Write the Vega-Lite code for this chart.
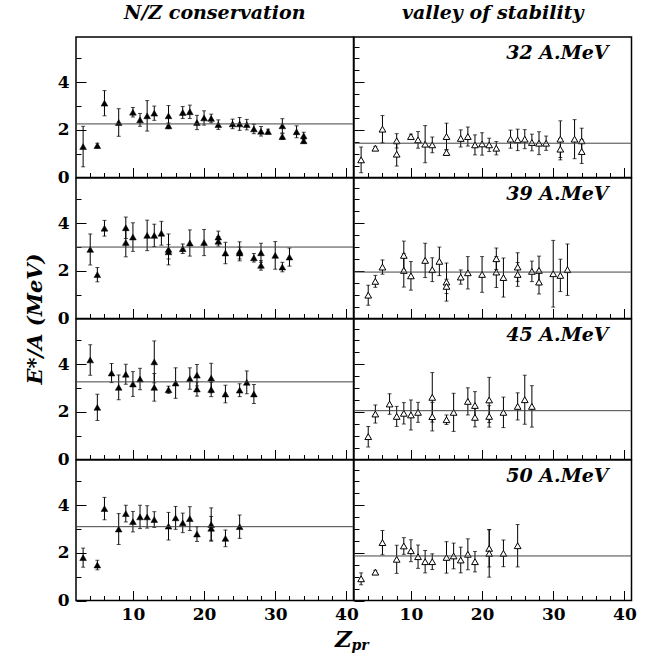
{
"$schema": "https://vega.github.io/schema/vega-lite/v6.json",
"padding": {"left": 23, "top": 3, "right": 0, "bottom": 0},
"background": "white",
"columns": 2,
"spacing": 0,
"bounds": "flush",
"datasets": {
"pts": [
{"p":"L32","Z":3,"E":1.3,"err":0.85},{"p":"L32","Z":5,"E":1.34,"err":0.1},{"p":"L32","Z":6,"E":3.12,"err":0.53},{"p":"L32","Z":8,"E":2.31,"err":0.58},{"p":"L32","Z":10,"E":2.74,"err":0.2},{"p":"L32","Z":11,"E":2.42,"err":0.27},{"p":"L32","Z":12,"E":2.59,"err":0.64},{"p":"L32","Z":13,"E":2.7,"err":0.3},{"p":"L32","Z":15,"E":2.59,"err":0.43},{"p":"L32","Z":15,"E":2.17,"err":0.12},{"p":"L32","Z":17,"E":2.73,"err":0.25},{"p":"L32","Z":18,"E":2.76,"err":0.28},{"p":"L32","Z":19,"E":2.31,"err":0.3},{"p":"L32","Z":20,"E":2.5,"err":0.3},{"p":"L32","Z":21,"E":2.48,"err":0.18},{"p":"L32","Z":22,"E":2.22,"err":0.2},{"p":"L32","Z":24,"E":2.25,"err":0.2},{"p":"L32","Z":25,"E":2.25,"err":0.27},{"p":"L32","Z":26,"E":2.22,"err":0.22},{"p":"L32","Z":27,"E":2.04,"err":0.2},{"p":"L32","Z":28,"E":1.94,"err":0.2},{"p":"L32","Z":29,"E":1.93,"err":0.1},{"p":"L32","Z":31,"E":2.17,"err":0.3},{"p":"L32","Z":31,"E":1.72,"err":0.12},{"p":"L32","Z":33,"E":1.92,"err":0.25},{"p":"L32","Z":34,"E":1.75,"err":0.15},{"p":"L32","Z":34,"E":1.54,"err":0.1},
{"p":"V32","Z":3,"E":0.74,"err":0.54},{"p":"V32","Z":5,"E":1.23,"err":0.08},{"p":"V32","Z":6,"E":2.03,"err":0.57},{"p":"V32","Z":8,"E":1.54,"err":0.3},{"p":"V32","Z":8,"E":0.98,"err":0.5},{"p":"V32","Z":10,"E":1.72,"err":0.1},{"p":"V32","Z":11,"E":1.58,"err":0.35},{"p":"V32","Z":12,"E":1.4,"err":0.78},{"p":"V32","Z":13,"E":1.37,"err":0.33},{"p":"V32","Z":15,"E":1.72,"err":0.56},{"p":"V32","Z":15,"E":1.05,"err":0.12},{"p":"V32","Z":17,"E":1.64,"err":0.36},{"p":"V32","Z":18,"E":1.72,"err":0.4},{"p":"V32","Z":19,"E":1.37,"err":0.42},{"p":"V32","Z":20,"E":1.41,"err":0.47},{"p":"V32","Z":21,"E":1.37,"err":0.28},{"p":"V32","Z":22,"E":1.23,"err":0.28},{"p":"V32","Z":24,"E":1.61,"err":0.38},{"p":"V32","Z":25,"E":1.58,"err":0.45},{"p":"V32","Z":26,"E":1.61,"err":0.4},{"p":"V32","Z":27,"E":1.47,"err":0.35},{"p":"V32","Z":28,"E":1.44,"err":0.48},{"p":"V32","Z":29,"E":1.44,"err":0.3},{"p":"V32","Z":31,"E":1.61,"err":0.77},{"p":"V32","Z":31,"E":1.19,"err":0.45},{"p":"V32","Z":33,"E":1.61,"err":0.82},{"p":"V32","Z":34,"E":1.54,"err":0.53},{"p":"V32","Z":34,"E":1.09,"err":0.5},
{"p":"L39","Z":4,"E":2.9,"err":0.65},{"p":"L39","Z":5,"E":1.84,"err":0.3},{"p":"L39","Z":6,"E":3.79,"err":0.33},{"p":"L39","Z":9,"E":3.81,"err":0.45},{"p":"L39","Z":9,"E":3.19,"err":0.6},{"p":"L39","Z":10,"E":3.42,"err":0.6},{"p":"L39","Z":12,"E":3.49,"err":0.64},{"p":"L39","Z":13,"E":3.49,"err":0.47},{"p":"L39","Z":14,"E":3.58,"err":0.5},{"p":"L39","Z":15,"E":2.9,"err":0.65},{"p":"L39","Z":15,"E":2.8,"err":0.3},{"p":"L39","Z":17,"E":2.93,"err":0.2},{"p":"L39","Z":18,"E":3.17,"err":0.55},{"p":"L39","Z":20,"E":3.19,"err":0.55},{"p":"L39","Z":22,"E":3.42,"err":0.25},{"p":"L39","Z":22,"E":3.24,"err":0.2},{"p":"L39","Z":23,"E":2.75,"err":0.45},{"p":"L39","Z":25,"E":2.82,"err":0.4},{"p":"L39","Z":25,"E":2.75,"err":0.25},{"p":"L39","Z":27,"E":2.55,"err":0.18},{"p":"L39","Z":28,"E":2.76,"err":0.4},{"p":"L39","Z":28,"E":2.23,"err":0.2},{"p":"L39","Z":30,"E":2.65,"err":0.58},{"p":"L39","Z":31,"E":2.16,"err":0.2},{"p":"L39","Z":32,"E":2.58,"err":0.38},
{"p":"V39","Z":4,"E":0.98,"err":0.42},{"p":"V39","Z":5,"E":1.56,"err":0.25},{"p":"V39","Z":6,"E":2.16,"err":0.3},{"p":"V39","Z":9,"E":2.65,"err":0.6},{"p":"V39","Z":9,"E":2.02,"err":0.7},{"p":"V39","Z":10,"E":1.79,"err":0.6},{"p":"V39","Z":12,"E":2.44,"err":0.72},{"p":"V39","Z":13,"E":2.05,"err":0.5},{"p":"V39","Z":14,"E":2.4,"err":0.6},{"p":"V39","Z":15,"E":1.53,"err":0.8},{"p":"V39","Z":15,"E":1.35,"err":0.3},{"p":"V39","Z":17,"E":1.74,"err":0.3},{"p":"V39","Z":18,"E":1.92,"err":0.68},{"p":"V39","Z":20,"E":1.85,"err":0.75},{"p":"V39","Z":22,"E":2.51,"err":0.45},{"p":"V39","Z":22,"E":1.95,"err":0.65},{"p":"V39","Z":23,"E":1.72,"err":0.82},{"p":"V39","Z":25,"E":2.16,"err":0.6},{"p":"V39","Z":25,"E":1.85,"err":0.5},{"p":"V39","Z":27,"E":1.98,"err":0.43},{"p":"V39","Z":28,"E":2.02,"err":0.6},{"p":"V39","Z":28,"E":1.53,"err":0.5},{"p":"V39","Z":30,"E":1.88,"err":1.4},{"p":"V39","Z":31,"E":1.81,"err":0.68},{"p":"V39","Z":32,"E":2.05,"err":1.08},
{"p":"L45","Z":4,"E":4.18,"err":0.64},{"p":"L45","Z":5,"E":2.19,"err":0.55},{"p":"L45","Z":7,"E":3.63,"err":0.4},{"p":"L45","Z":8,"E":3.03,"err":0.52},{"p":"L45","Z":9,"E":3.58,"err":0.42},{"p":"L45","Z":10,"E":3.17,"err":0.52},{"p":"L45","Z":11,"E":3.38,"err":0.45},{"p":"L45","Z":13,"E":4.1,"err":0.88},{"p":"L45","Z":13,"E":3.03,"err":0.58},{"p":"L45","Z":15,"E":2.93,"err":0.15},{"p":"L45","Z":16,"E":3.21,"err":0.64},{"p":"L45","Z":18,"E":3.4,"err":0.45},{"p":"L45","Z":19,"E":3.54,"err":0.45},{"p":"L45","Z":19,"E":2.96,"err":0.3},{"p":"L45","Z":21,"E":3.42,"err":0.62},{"p":"L45","Z":21,"E":2.94,"err":0.3},{"p":"L45","Z":23,"E":2.75,"err":0.37},{"p":"L45","Z":25,"E":2.91,"err":0.27},{"p":"L45","Z":26,"E":3.24,"err":0.48},{"p":"L45","Z":27,"E":2.75,"err":0.4},
{"p":"V45","Z":4,"E":0.96,"err":0.43},{"p":"V45","Z":5,"E":1.91,"err":0.38},{"p":"V45","Z":7,"E":2.33,"err":0.43},{"p":"V45","Z":8,"E":1.81,"err":0.42},{"p":"V45","Z":9,"E":1.94,"err":0.45},{"p":"V45","Z":10,"E":1.87,"err":0.63},{"p":"V45","Z":11,"E":1.98,"err":0.42},{"p":"V45","Z":13,"E":2.61,"err":1.04},{"p":"V45","Z":13,"E":1.8,"err":0.6},{"p":"V45","Z":15,"E":1.67,"err":0.2},{"p":"V45","Z":16,"E":1.98,"err":0.8},{"p":"V45","Z":18,"E":2.44,"err":0.57},{"p":"V45","Z":19,"E":2.27,"err":0.58},{"p":"V45","Z":19,"E":1.77,"err":0.4},{"p":"V45","Z":21,"E":2.5,"err":0.95},{"p":"V45","Z":21,"E":1.81,"err":0.45},{"p":"V45","Z":23,"E":1.98,"err":0.64},{"p":"V45","Z":25,"E":2.23,"err":0.57},{"p":"V45","Z":26,"E":2.51,"err":1.03},{"p":"V45","Z":27,"E":2.23,"err":0.87},
{"p":"L50","Z":3,"E":1.8,"err":0.4},{"p":"L50","Z":5,"E":1.49,"err":0.2},{"p":"L50","Z":6,"E":3.86,"err":0.47},{"p":"L50","Z":8,"E":3.0,"err":0.65},{"p":"L50","Z":9,"E":3.65,"err":0.35},{"p":"L50","Z":10,"E":3.31,"err":0.43},{"p":"L50","Z":11,"E":3.51,"err":0.49},{"p":"L50","Z":12,"E":3.51,"err":0.47},{"p":"L50","Z":13,"E":3.4,"err":0.33},{"p":"L50","Z":15,"E":3.12,"err":0.58},{"p":"L50","Z":16,"E":3.47,"err":0.48},{"p":"L50","Z":17,"E":3.26,"err":0.41},{"p":"L50","Z":18,"E":3.44,"err":0.5},{"p":"L50","Z":19,"E":2.79,"err":0.31},{"p":"L50","Z":21,"E":3.19,"err":0.7},{"p":"L50","Z":21,"E":3.03,"err":0.5},{"p":"L50","Z":23,"E":2.61,"err":0.35},{"p":"L50","Z":25,"E":3.1,"err":0.49},
{"p":"V50","Z":3,"E":0.91,"err":0.25},{"p":"V50","Z":5,"E":1.19,"err":0.08},{"p":"V50","Z":6,"E":2.43,"err":0.51},{"p":"V50","Z":8,"E":1.73,"err":0.59},{"p":"V50","Z":9,"E":2.29,"err":0.35},{"p":"V50","Z":10,"E":2.09,"err":0.46},{"p":"V50","Z":11,"E":1.84,"err":0.49},{"p":"V50","Z":12,"E":1.63,"err":0.47},{"p":"V50","Z":13,"E":1.63,"err":0.33},{"p":"V50","Z":15,"E":1.81,"err":0.66},{"p":"V50","Z":16,"E":1.87,"err":0.54},{"p":"V50","Z":17,"E":1.7,"err":0.54},{"p":"V50","Z":18,"E":1.94,"err":0.65},{"p":"V50","Z":19,"E":1.63,"err":0.43},{"p":"V50","Z":21,"E":2.19,"err":0.78},{"p":"V50","Z":21,"E":1.98,"err":1.0},{"p":"V50","Z":23,"E":1.98,"err":0.56},{"p":"V50","Z":25,"E":2.3,"err":0.89}
],
"means": [
{"p":"L32","mean":2.25},{"p":"V32","mean":1.44},{"p":"L39","mean":3.0},{"p":"V39","mean":1.95},
{"p":"L45","mean":3.26},{"p":"V45","mean":2.05},{"p":"L50","mean":3.1},{"p":"V50","mean":1.87}
]
},
"concat": [
{
"width": 277.5, "height": 140.5,
"title": {"text": "N/Z conservation", "anchor": "middle", "frame": "group", "offset": -1, "baseline": "alphabetic"},
"layer": [
{"data": {"name": "pts"}, "transform": [{"filter": "datum.p === 'L32'"}],
 "mark": {"type": "errorbar", "ticks": true, "size": 4, "thickness": 1, "color": "black"},
 "encoding": {
  "x": {"field": "Z", "type": "quantitative", "scale": {"domain": [2, 41], "nice": false, "zero": false}, "axis": {"values": [4,6,8,10,12,14,16,18,20,22,24,26,28,30,32,34,36,38,40], "format": "d", "labels": false, "tickSize": {"condition": {"test": "datum.value % 10 === 0", "value": -10}, "value": -5}, "title": null}},
  "y": {"field": "E", "type": "quantitative", "scale": {"domain": [0, 5.9], "nice": false, "zero": false}, "axis": {"values": [0,0.5,1,1.5,2,2.5,3,3.5,4,4.5,5,5.5], "format": "d", "labelExpr": "datum.value % 2 === 0 ? datum.label : ''", "labelPadding": 17, "tickSize": {"condition": {"test": "datum.value % 2 === 0", "value": -10}, "value": -5}, "title": null}},
  "yError": {"field": "err"}}},
{"data": {"name": "pts"}, "transform": [{"filter": "datum.p === 'L32'"}],
 "mark": {"type": "point", "shape": "triangle-up", "size": 45, "filled": true, "fill": "black", "stroke": "black", "strokeWidth": 0.5, "opacity": 1},
 "encoding": {
  "x": {"field": "Z", "type": "quantitative", "scale": {"domain": [2, 41], "nice": false, "zero": false}, "axis": {"values": [4,6,8,10,12,14,16,18,20,22,24,26,28,30,32,34,36,38,40], "format": "d", "labels": false, "tickSize": {"condition": {"test": "datum.value % 10 === 0", "value": -10}, "value": -5}, "title": null}},
  "y": {"field": "E", "type": "quantitative", "scale": {"domain": [0, 5.9], "nice": false, "zero": false}, "axis": {"values": [0,0.5,1,1.5,2,2.5,3,3.5,4,4.5,5,5.5], "format": "d", "labelExpr": "datum.value % 2 === 0 ? datum.label : ''", "labelPadding": 17, "tickSize": {"condition": {"test": "datum.value % 2 === 0", "value": -10}, "value": -5}, "title": null}}}},
{"data": {"name": "means"}, "transform": [{"filter": "datum.p === 'L32'"}],
 "mark": {"type": "rule", "color": "#444444", "strokeWidth": 1},
 "encoding": {
  "y": {"field": "mean", "type": "quantitative", "scale": {"domain": [0, 5.9], "nice": false, "zero": false}, "axis": {"values": [0,0.5,1,1.5,2,2.5,3,3.5,4,4.5,5,5.5], "format": "d", "labelExpr": "datum.value % 2 === 0 ? datum.label : ''", "labelPadding": 17, "tickSize": {"condition": {"test": "datum.value % 2 === 0", "value": -10}, "value": -5}, "title": null}}}}
]
},
{
"width": 277.5, "height": 140.5,
"title": {"text": "valley of stability", "anchor": "middle", "frame": "group", "offset": -1, "baseline": "alphabetic"},
"layer": [
{"data": {"name": "pts"}, "transform": [{"filter": "datum.p === 'V32'"}],
 "mark": {"type": "errorbar", "ticks": true, "size": 4, "thickness": 1, "color": "black"},
 "encoding": {
  "x": {"field": "Z", "type": "quantitative", "scale": {"domain": [2, 41], "nice": false, "zero": false}, "axis": {"values": [4,6,8,10,12,14,16,18,20,22,24,26,28,30,32,34,36,38,40], "format": "d", "labels": false, "tickSize": {"condition": {"test": "datum.value % 10 === 0", "value": -10}, "value": -5}, "title": "32 A.MeV", "titleX": 254, "titleY": -119.5, "titleAlign": "right", "titleBaseline": "alphabetic", "titleAngle": 0}},
  "y": {"field": "E", "type": "quantitative", "scale": {"domain": [0, 5.9], "nice": false, "zero": false}, "axis": {"values": [0,0.5,1,1.5,2,2.5,3,3.5,4,4.5,5,5.5], "labels": false, "tickSize": {"condition": {"test": "datum.value % 2 === 0", "value": -10}, "value": -5}, "title": null}},
  "yError": {"field": "err"}}},
{"data": {"name": "pts"}, "transform": [{"filter": "datum.p === 'V32'"}],
 "mark": {"type": "point", "shape": "triangle-up", "size": 45, "filled": true, "fill": "white", "stroke": "black", "strokeWidth": 1, "opacity": 1},
 "encoding": {
  "x": {"field": "Z", "type": "quantitative", "scale": {"domain": [2, 41], "nice": false, "zero": false}, "axis": {"values": [4,6,8,10,12,14,16,18,20,22,24,26,28,30,32,34,36,38,40], "format": "d", "labels": false, "tickSize": {"condition": {"test": "datum.value % 10 === 0", "value": -10}, "value": -5}, "title": "32 A.MeV", "titleX": 254, "titleY": -119.5, "titleAlign": "right", "titleBaseline": "alphabetic", "titleAngle": 0}},
  "y": {"field": "E", "type": "quantitative", "scale": {"domain": [0, 5.9], "nice": false, "zero": false}, "axis": {"values": [0,0.5,1,1.5,2,2.5,3,3.5,4,4.5,5,5.5], "labels": false, "tickSize": {"condition": {"test": "datum.value % 2 === 0", "value": -10}, "value": -5}, "title": null}}}},
{"data": {"name": "means"}, "transform": [{"filter": "datum.p === 'V32'"}],
 "mark": {"type": "rule", "color": "#444444", "strokeWidth": 1},
 "encoding": {
  "y": {"field": "mean", "type": "quantitative", "scale": {"domain": [0, 5.9], "nice": false, "zero": false}, "axis": {"values": [0,0.5,1,1.5,2,2.5,3,3.5,4,4.5,5,5.5], "labels": false, "tickSize": {"condition": {"test": "datum.value % 2 === 0", "value": -10}, "value": -5}, "title": null}}}}
]
},
{
"width": 277.5, "height": 140.5,
"layer": [
{"data": {"name": "pts"}, "transform": [{"filter": "datum.p === 'L39'"}],
 "mark": {"type": "errorbar", "ticks": true, "size": 4, "thickness": 1, "color": "black"},
 "encoding": {
  "x": {"field": "Z", "type": "quantitative", "scale": {"domain": [2, 41], "nice": false, "zero": false}, "axis": {"values": [4,6,8,10,12,14,16,18,20,22,24,26,28,30,32,34,36,38,40], "format": "d", "labels": false, "tickSize": {"condition": {"test": "datum.value % 10 === 0", "value": -10}, "value": -5}, "title": null}},
  "y": {"field": "E", "type": "quantitative", "scale": {"domain": [0, 5.9], "nice": false, "zero": false}, "axis": {"values": [0,0.5,1,1.5,2,2.5,3,3.5,4,4.5,5,5.5], "format": "d", "labelExpr": "datum.value % 2 === 0 ? datum.label : ''", "labelPadding": 17, "tickSize": {"condition": {"test": "datum.value % 2 === 0", "value": -10}, "value": -5}, "title": "E*/A (MeV)", "titleX": -35, "titleY": 140.5, "titleAngle": 270, "titleAlign": "center", "titleBaseline": "alphabetic", "titleFontSize": 21}},
  "yError": {"field": "err"}}},
{"data": {"name": "pts"}, "transform": [{"filter": "datum.p === 'L39'"}],
 "mark": {"type": "point", "shape": "triangle-up", "size": 45, "filled": true, "fill": "black", "stroke": "black", "strokeWidth": 0.5, "opacity": 1},
 "encoding": {
  "x": {"field": "Z", "type": "quantitative", "scale": {"domain": [2, 41], "nice": false, "zero": false}, "axis": {"values": [4,6,8,10,12,14,16,18,20,22,24,26,28,30,32,34,36,38,40], "format": "d", "labels": false, "tickSize": {"condition": {"test": "datum.value % 10 === 0", "value": -10}, "value": -5}, "title": null}},
  "y": {"field": "E", "type": "quantitative", "scale": {"domain": [0, 5.9], "nice": false, "zero": false}, "axis": {"values": [0,0.5,1,1.5,2,2.5,3,3.5,4,4.5,5,5.5], "format": "d", "labelExpr": "datum.value % 2 === 0 ? datum.label : ''", "labelPadding": 17, "tickSize": {"condition": {"test": "datum.value % 2 === 0", "value": -10}, "value": -5}, "title": "E*/A (MeV)", "titleX": -35, "titleY": 140.5, "titleAngle": 270, "titleAlign": "center", "titleBaseline": "alphabetic", "titleFontSize": 21}}}},
{"data": {"name": "means"}, "transform": [{"filter": "datum.p === 'L39'"}],
 "mark": {"type": "rule", "color": "#444444", "strokeWidth": 1},
 "encoding": {
  "y": {"field": "mean", "type": "quantitative", "scale": {"domain": [0, 5.9], "nice": false, "zero": false}, "axis": {"values": [0,0.5,1,1.5,2,2.5,3,3.5,4,4.5,5,5.5], "format": "d", "labelExpr": "datum.value % 2 === 0 ? datum.label : ''", "labelPadding": 17, "tickSize": {"condition": {"test": "datum.value % 2 === 0", "value": -10}, "value": -5}, "title": "E*/A (MeV)", "titleX": -35, "titleY": 140.5, "titleAngle": 270, "titleAlign": "center", "titleBaseline": "alphabetic", "titleFontSize": 21}}}}
]
},
{
"width": 277.5, "height": 140.5,
"layer": [
{"data": {"name": "pts"}, "transform": [{"filter": "datum.p === 'V39'"}],
 "mark": {"type": "errorbar", "ticks": true, "size": 4, "thickness": 1, "color": "black"},
 "encoding": {
  "x": {"field": "Z", "type": "quantitative", "scale": {"domain": [2, 41], "nice": false, "zero": false}, "axis": {"values": [4,6,8,10,12,14,16,18,20,22,24,26,28,30,32,34,36,38,40], "format": "d", "labels": false, "tickSize": {"condition": {"test": "datum.value % 10 === 0", "value": -10}, "value": -5}, "title": "39 A.MeV", "titleX": 254, "titleY": -119.5, "titleAlign": "right", "titleBaseline": "alphabetic", "titleAngle": 0}},
  "y": {"field": "E", "type": "quantitative", "scale": {"domain": [0, 5.9], "nice": false, "zero": false}, "axis": {"values": [0,0.5,1,1.5,2,2.5,3,3.5,4,4.5,5,5.5], "labels": false, "tickSize": {"condition": {"test": "datum.value % 2 === 0", "value": -10}, "value": -5}, "title": null}},
  "yError": {"field": "err"}}},
{"data": {"name": "pts"}, "transform": [{"filter": "datum.p === 'V39'"}],
 "mark": {"type": "point", "shape": "triangle-up", "size": 45, "filled": true, "fill": "white", "stroke": "black", "strokeWidth": 1, "opacity": 1},
 "encoding": {
  "x": {"field": "Z", "type": "quantitative", "scale": {"domain": [2, 41], "nice": false, "zero": false}, "axis": {"values": [4,6,8,10,12,14,16,18,20,22,24,26,28,30,32,34,36,38,40], "format": "d", "labels": false, "tickSize": {"condition": {"test": "datum.value % 10 === 0", "value": -10}, "value": -5}, "title": "39 A.MeV", "titleX": 254, "titleY": -119.5, "titleAlign": "right", "titleBaseline": "alphabetic", "titleAngle": 0}},
  "y": {"field": "E", "type": "quantitative", "scale": {"domain": [0, 5.9], "nice": false, "zero": false}, "axis": {"values": [0,0.5,1,1.5,2,2.5,3,3.5,4,4.5,5,5.5], "labels": false, "tickSize": {"condition": {"test": "datum.value % 2 === 0", "value": -10}, "value": -5}, "title": null}}}},
{"data": {"name": "means"}, "transform": [{"filter": "datum.p === 'V39'"}],
 "mark": {"type": "rule", "color": "#444444", "strokeWidth": 1},
 "encoding": {
  "y": {"field": "mean", "type": "quantitative", "scale": {"domain": [0, 5.9], "nice": false, "zero": false}, "axis": {"values": [0,0.5,1,1.5,2,2.5,3,3.5,4,4.5,5,5.5], "labels": false, "tickSize": {"condition": {"test": "datum.value % 2 === 0", "value": -10}, "value": -5}, "title": null}}}}
]
},
{
"width": 277.5, "height": 140.5,
"layer": [
{"data": {"name": "pts"}, "transform": [{"filter": "datum.p === 'L45'"}],
 "mark": {"type": "errorbar", "ticks": true, "size": 4, "thickness": 1, "color": "black"},
 "encoding": {
  "x": {"field": "Z", "type": "quantitative", "scale": {"domain": [2, 41], "nice": false, "zero": false}, "axis": {"values": [4,6,8,10,12,14,16,18,20,22,24,26,28,30,32,34,36,38,40], "format": "d", "labels": false, "tickSize": {"condition": {"test": "datum.value % 10 === 0", "value": -10}, "value": -5}, "title": null}},
  "y": {"field": "E", "type": "quantitative", "scale": {"domain": [0, 5.9], "nice": false, "zero": false}, "axis": {"values": [0,0.5,1,1.5,2,2.5,3,3.5,4,4.5,5,5.5], "format": "d", "labelExpr": "datum.value % 2 === 0 ? datum.label : ''", "labelPadding": 17, "tickSize": {"condition": {"test": "datum.value % 2 === 0", "value": -10}, "value": -5}, "title": null}},
  "yError": {"field": "err"}}},
{"data": {"name": "pts"}, "transform": [{"filter": "datum.p === 'L45'"}],
 "mark": {"type": "point", "shape": "triangle-up", "size": 45, "filled": true, "fill": "black", "stroke": "black", "strokeWidth": 0.5, "opacity": 1},
 "encoding": {
  "x": {"field": "Z", "type": "quantitative", "scale": {"domain": [2, 41], "nice": false, "zero": false}, "axis": {"values": [4,6,8,10,12,14,16,18,20,22,24,26,28,30,32,34,36,38,40], "format": "d", "labels": false, "tickSize": {"condition": {"test": "datum.value % 10 === 0", "value": -10}, "value": -5}, "title": null}},
  "y": {"field": "E", "type": "quantitative", "scale": {"domain": [0, 5.9], "nice": false, "zero": false}, "axis": {"values": [0,0.5,1,1.5,2,2.5,3,3.5,4,4.5,5,5.5], "format": "d", "labelExpr": "datum.value % 2 === 0 ? datum.label : ''", "labelPadding": 17, "tickSize": {"condition": {"test": "datum.value % 2 === 0", "value": -10}, "value": -5}, "title": null}}}},
{"data": {"name": "means"}, "transform": [{"filter": "datum.p === 'L45'"}],
 "mark": {"type": "rule", "color": "#444444", "strokeWidth": 1},
 "encoding": {
  "y": {"field": "mean", "type": "quantitative", "scale": {"domain": [0, 5.9], "nice": false, "zero": false}, "axis": {"values": [0,0.5,1,1.5,2,2.5,3,3.5,4,4.5,5,5.5], "format": "d", "labelExpr": "datum.value % 2 === 0 ? datum.label : ''", "labelPadding": 17, "tickSize": {"condition": {"test": "datum.value % 2 === 0", "value": -10}, "value": -5}, "title": null}}}}
]
},
{
"width": 277.5, "height": 140.5,
"layer": [
{"data": {"name": "pts"}, "transform": [{"filter": "datum.p === 'V45'"}],
 "mark": {"type": "errorbar", "ticks": true, "size": 4, "thickness": 1, "color": "black"},
 "encoding": {
  "x": {"field": "Z", "type": "quantitative", "scale": {"domain": [2, 41], "nice": false, "zero": false}, "axis": {"values": [4,6,8,10,12,14,16,18,20,22,24,26,28,30,32,34,36,38,40], "format": "d", "labels": false, "tickSize": {"condition": {"test": "datum.value % 10 === 0", "value": -10}, "value": -5}, "title": "45 A.MeV", "titleX": 254, "titleY": -119.5, "titleAlign": "right", "titleBaseline": "alphabetic", "titleAngle": 0}},
  "y": {"field": "E", "type": "quantitative", "scale": {"domain": [0, 5.9], "nice": false, "zero": false}, "axis": {"values": [0,0.5,1,1.5,2,2.5,3,3.5,4,4.5,5,5.5], "labels": false, "tickSize": {"condition": {"test": "datum.value % 2 === 0", "value": -10}, "value": -5}, "title": null}},
  "yError": {"field": "err"}}},
{"data": {"name": "pts"}, "transform": [{"filter": "datum.p === 'V45'"}],
 "mark": {"type": "point", "shape": "triangle-up", "size": 45, "filled": true, "fill": "white", "stroke": "black", "strokeWidth": 1, "opacity": 1},
 "encoding": {
  "x": {"field": "Z", "type": "quantitative", "scale": {"domain": [2, 41], "nice": false, "zero": false}, "axis": {"values": [4,6,8,10,12,14,16,18,20,22,24,26,28,30,32,34,36,38,40], "format": "d", "labels": false, "tickSize": {"condition": {"test": "datum.value % 10 === 0", "value": -10}, "value": -5}, "title": "45 A.MeV", "titleX": 254, "titleY": -119.5, "titleAlign": "right", "titleBaseline": "alphabetic", "titleAngle": 0}},
  "y": {"field": "E", "type": "quantitative", "scale": {"domain": [0, 5.9], "nice": false, "zero": false}, "axis": {"values": [0,0.5,1,1.5,2,2.5,3,3.5,4,4.5,5,5.5], "labels": false, "tickSize": {"condition": {"test": "datum.value % 2 === 0", "value": -10}, "value": -5}, "title": null}}}},
{"data": {"name": "means"}, "transform": [{"filter": "datum.p === 'V45'"}],
 "mark": {"type": "rule", "color": "#444444", "strokeWidth": 1},
 "encoding": {
  "y": {"field": "mean", "type": "quantitative", "scale": {"domain": [0, 5.9], "nice": false, "zero": false}, "axis": {"values": [0,0.5,1,1.5,2,2.5,3,3.5,4,4.5,5,5.5], "labels": false, "tickSize": {"condition": {"test": "datum.value % 2 === 0", "value": -10}, "value": -5}, "title": null}}}}
]
},
{
"width": 277.5, "height": 140.5,
"layer": [
{"data": {"name": "pts"}, "transform": [{"filter": "datum.p === 'L50'"}],
 "mark": {"type": "errorbar", "ticks": true, "size": 4, "thickness": 1, "color": "black"},
 "encoding": {
  "x": {"field": "Z", "type": "quantitative", "scale": {"domain": [2, 41], "nice": false, "zero": false}, "axis": {"values": [4,6,8,10,12,14,16,18,20,22,24,26,28,30,32,34,36,38,40], "format": "d", "labelExpr": "datum.value % 10 === 0 ? datum.label : ''", "labelFlush": false, "labelPadding": 16, "tickSize": {"condition": {"test": "datum.value % 10 === 0", "value": -10}, "value": -5}, "title": "Z", "titleX": 267, "titleY": 46, "titleAlign": "center", "titleBaseline": "alphabetic", "titleAngle": 0, "titleFontSize": 23}},
  "y": {"field": "E", "type": "quantitative", "scale": {"domain": [0, 5.9], "nice": false, "zero": false}, "axis": {"values": [0,0.5,1,1.5,2,2.5,3,3.5,4,4.5,5,5.5], "format": "d", "labelExpr": "datum.value % 2 === 0 ? datum.label : ''", "labelPadding": 17, "tickSize": {"condition": {"test": "datum.value % 2 === 0", "value": -10}, "value": -5}, "title": "pr", "titleX": 275, "titleY": 189.5, "titleAngle": 0, "titleAlign": "left", "titleBaseline": "alphabetic", "titleFontSize": 14}},
  "yError": {"field": "err"}}},
{"data": {"name": "pts"}, "transform": [{"filter": "datum.p === 'L50'"}],
 "mark": {"type": "point", "shape": "triangle-up", "size": 45, "filled": true, "fill": "black", "stroke": "black", "strokeWidth": 0.5, "opacity": 1},
 "encoding": {
  "x": {"field": "Z", "type": "quantitative", "scale": {"domain": [2, 41], "nice": false, "zero": false}, "axis": {"values": [4,6,8,10,12,14,16,18,20,22,24,26,28,30,32,34,36,38,40], "format": "d", "labelExpr": "datum.value % 10 === 0 ? datum.label : ''", "labelFlush": false, "labelPadding": 16, "tickSize": {"condition": {"test": "datum.value % 10 === 0", "value": -10}, "value": -5}, "title": "Z", "titleX": 267, "titleY": 46, "titleAlign": "center", "titleBaseline": "alphabetic", "titleAngle": 0, "titleFontSize": 23}},
  "y": {"field": "E", "type": "quantitative", "scale": {"domain": [0, 5.9], "nice": false, "zero": false}, "axis": {"values": [0,0.5,1,1.5,2,2.5,3,3.5,4,4.5,5,5.5], "format": "d", "labelExpr": "datum.value % 2 === 0 ? datum.label : ''", "labelPadding": 17, "tickSize": {"condition": {"test": "datum.value % 2 === 0", "value": -10}, "value": -5}, "title": "pr", "titleX": 275, "titleY": 189.5, "titleAngle": 0, "titleAlign": "left", "titleBaseline": "alphabetic", "titleFontSize": 14}}}},
{"data": {"name": "means"}, "transform": [{"filter": "datum.p === 'L50'"}],
 "mark": {"type": "rule", "color": "#444444", "strokeWidth": 1},
 "encoding": {
  "y": {"field": "mean", "type": "quantitative", "scale": {"domain": [0, 5.9], "nice": false, "zero": false}, "axis": {"values": [0,0.5,1,1.5,2,2.5,3,3.5,4,4.5,5,5.5], "format": "d", "labelExpr": "datum.value % 2 === 0 ? datum.label : ''", "labelPadding": 17, "tickSize": {"condition": {"test": "datum.value % 2 === 0", "value": -10}, "value": -5}, "title": "pr", "titleX": 275, "titleY": 189.5, "titleAngle": 0, "titleAlign": "left", "titleBaseline": "alphabetic", "titleFontSize": 14}}}}
]
},
{
"width": 277.5, "height": 140.5,
"layer": [
{"data": {"name": "pts"}, "transform": [{"filter": "datum.p === 'V50'"}],
 "mark": {"type": "errorbar", "ticks": true, "size": 4, "thickness": 1, "color": "black"},
 "encoding": {
  "x": {"field": "Z", "type": "quantitative", "scale": {"domain": [2, 41], "nice": false, "zero": false}, "axis": {"values": [4,6,8,10,12,14,16,18,20,22,24,26,28,30,32,34,36,38,40], "format": "d", "labelExpr": "datum.value % 10 === 0 ? datum.label : ''", "labelFlush": false, "labelPadding": 16, "tickSize": {"condition": {"test": "datum.value % 10 === 0", "value": -10}, "value": -5}, "title": "50 A.MeV", "titleX": 254, "titleY": -119.5, "titleAlign": "right", "titleBaseline": "alphabetic", "titleAngle": 0}},
  "y": {"field": "E", "type": "quantitative", "scale": {"domain": [0, 5.9], "nice": false, "zero": false}, "axis": {"values": [0,0.5,1,1.5,2,2.5,3,3.5,4,4.5,5,5.5], "labels": false, "tickSize": {"condition": {"test": "datum.value % 2 === 0", "value": -10}, "value": -5}, "title": null}},
  "yError": {"field": "err"}}},
{"data": {"name": "pts"}, "transform": [{"filter": "datum.p === 'V50'"}],
 "mark": {"type": "point", "shape": "triangle-up", "size": 45, "filled": true, "fill": "white", "stroke": "black", "strokeWidth": 1, "opacity": 1},
 "encoding": {
  "x": {"field": "Z", "type": "quantitative", "scale": {"domain": [2, 41], "nice": false, "zero": false}, "axis": {"values": [4,6,8,10,12,14,16,18,20,22,24,26,28,30,32,34,36,38,40], "format": "d", "labelExpr": "datum.value % 10 === 0 ? datum.label : ''", "labelFlush": false, "labelPadding": 16, "tickSize": {"condition": {"test": "datum.value % 10 === 0", "value": -10}, "value": -5}, "title": "50 A.MeV", "titleX": 254, "titleY": -119.5, "titleAlign": "right", "titleBaseline": "alphabetic", "titleAngle": 0}},
  "y": {"field": "E", "type": "quantitative", "scale": {"domain": [0, 5.9], "nice": false, "zero": false}, "axis": {"values": [0,0.5,1,1.5,2,2.5,3,3.5,4,4.5,5,5.5], "labels": false, "tickSize": {"condition": {"test": "datum.value % 2 === 0", "value": -10}, "value": -5}, "title": null}}}},
{"data": {"name": "means"}, "transform": [{"filter": "datum.p === 'V50'"}],
 "mark": {"type": "rule", "color": "#444444", "strokeWidth": 1},
 "encoding": {
  "y": {"field": "mean", "type": "quantitative", "scale": {"domain": [0, 5.9], "nice": false, "zero": false}, "axis": {"values": [0,0.5,1,1.5,2,2.5,3,3.5,4,4.5,5,5.5], "labels": false, "tickSize": {"condition": {"test": "datum.value % 2 === 0", "value": -10}, "value": -5}, "title": null}}}}
]
}
],
"config": {
"font": "DejaVu Serif",
"view": {"stroke": "black", "strokeWidth": 1.5, "fill": "white"},
"axis": {"labelFont": "DejaVu Serif", "labelFontWeight": "bold", "labelFontSize": 17, "labelColor": "black", "tickColor": "black", "tickWidth": 1, "titleFont": "DejaVu Serif", "titleFontWeight": "bold", "titleFontStyle": "italic", "titleFontSize": 19, "titleColor": "black", "domain": false, "grid": false, "labelFlush": false},
"title": {"font": "DejaVu Serif", "fontWeight": "bold", "fontStyle": "italic", "fontSize": 19, "color": "black"}
}
}
